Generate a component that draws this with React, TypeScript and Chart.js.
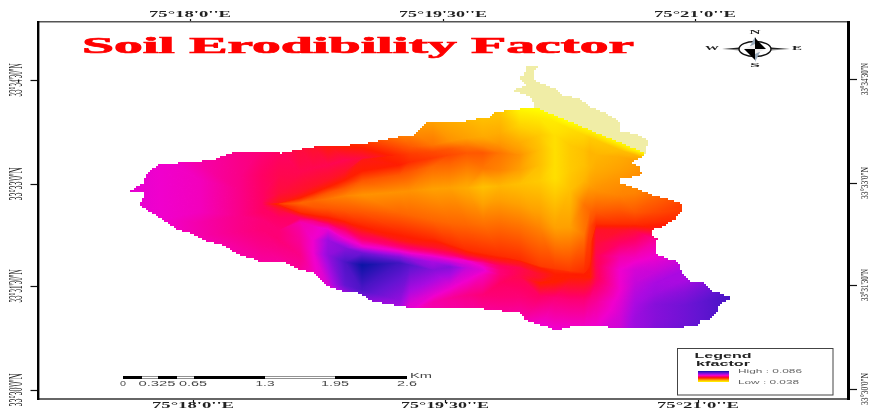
import React, { useEffect, useRef } from "react";
import { Chart, registerables } from "chart.js";

Chart.register(...registerables);

// Source raster grid: column / row of each mapped cell. Axis ticks sit on these columns and rows.
const xTicksTop = [190, 443, 695];
const xTicksBottom = [193, 445, 698];
const yTicksLeft = [80, 184, 286, 390];
const yTicksRight = [79, 183, 285, 389];
const lonLabels = ["75°18'0''E", "75°19'30''E", "75°21'0''E"];
const latLabels = ["33°34'30''N", "33°33'0''N", "33°31'30''N", "33°30'0''N"];

const scaleBarBreaks = [123, 142, 158, 177, 194, 265, 335, 407];
const scaleBarLabels = ["0", "0.325", "0.65", "1.3", "1.95", "2.6"];
const scaleBarLabelAt = [123, 157, 193, 265, 335, 407];

// k-factor colour ramp (k x 1000, colour)
const ramp: [number, number[]][] = [
  [38, [255, 255, 0]],
  [47, [255, 160, 0]],
  [56, [255, 30, 0]],
  [61, [255, 0, 100]],
  [67, [240, 0, 205]],
  [72, [170, 10, 225]],
  [78, [100, 20, 210]],
  [86, [10, 20, 165]],
];

// Watershed boundary of the kfactor surface [col, row]
const basinOutline: number[][] = [
  [535, 107], [646, 153], [641, 157], [632, 163], [640, 167], [639, 172], [644, 174], [632, 177], [620, 178], [620, 183],
  [635, 188], [652, 195], [677, 202], [682, 204], [681, 212], [675, 219], [665, 226], [652, 230], [652, 236], [657, 239],
  [656, 254], [668, 259], [678, 262], [682, 274], [690, 281], [702, 282], [712, 291], [733, 298], [725, 302], [718, 306],
  [717, 312], [710, 319], [700, 321], [698, 326], [683, 327], [652, 327], [635, 328], [617, 328], [602, 326], [575, 326],
  [554, 331], [552, 328], [535, 323], [525, 319], [522, 313], [503, 311], [475, 308], [445, 307], [407, 307], [383, 303],
  [370, 300], [360, 293], [345, 292], [333, 288], [322, 282], [313, 272], [300, 270], [288, 263], [260, 261], [238, 254],
  [223, 245], [207, 241], [193, 234], [177, 229], [160, 217], [140, 206], [140, 203], [145, 193], [128, 191], [143, 183],
  [147, 172], [160, 163], [177, 163], [213, 160], [230, 153], [250, 152], [280, 153], [290, 151], [313, 147], [340, 146],
  [367, 143], [397, 137], [413, 135], [428, 122], [458, 122], [488, 117], [495, 112], [518, 109],
];

// Separate pale unit at the northern tip [col, row]
const tipOutline: number[][] = [
  [526, 66], [538, 67], [533, 72], [535, 82], [545, 85], [557, 90], [563, 96], [578, 98], [590, 107], [605, 113],
  [620, 122], [620, 131], [638, 135], [648, 141], [646, 153], [535, 107], [532, 98], [522, 93], [512, 90], [526, 85],
  [518, 78], [524, 75],
];

// kfactor surface read along columns: each column has 17 samples that follow the same features
const surfaceColumns = [
  100, 125, 160, 200, 240, 262, 279, 300, 313, 328, 345, 362, 400, 410, 433, 450, 467, 483, 500, 520, 540, 555, 570,
  584, 590, 596, 620, 635, 655, 685, 750,
];
const surfaceRows: number[][] = [
  [130, 140, 150, 160, 170, 180, 190, 195, 200, 204, 210, 220, 230, 245, 260, 275, 295],
  [130, 140, 150, 160, 170, 180, 190, 195, 200, 204, 210, 220, 230, 245, 260, 275, 295],
  [130, 140, 150, 160, 170, 180, 190, 195, 200, 204, 210, 220, 230, 245, 260, 275, 295],
  [130, 150, 165, 180, 188, 194, 198, 201, 204, 207, 212, 222, 235, 245, 258, 270, 290],
  [130, 150, 175, 190, 197, 200, 203, 205, 208, 212, 216, 222, 232, 245, 258, 270, 290],
  [130, 150, 175, 193, 200, 202, 204, 205, 206, 208, 212, 220, 230, 245, 258, 270, 290],
  [130, 150, 175, 193, 203, 203.7, 204, 204.3, 206, 210, 218, 230, 240, 250, 260, 272, 290],
  [130, 148, 172, 192, 198, 200, 203, 207, 212, 215, 218, 222, 240, 255, 270, 285, 295],
  [130, 146, 168, 186, 193, 197, 201, 207, 214, 218, 221, 226, 240, 253, 272, 285, 300],
  [130, 144, 165, 180, 187, 193, 199, 208, 216, 221, 225, 230, 240, 255, 285, 295, 305],
  [130, 143, 160, 172, 180, 188, 196, 210, 220, 225, 232, 240, 248, 262, 285, 295, 305],
  [125, 141, 158, 160, 171, 181, 195, 212, 224, 230, 240, 247, 253, 265, 290, 302, 310],
  [115, 134, 148, 155, 165, 175, 192, 213, 231, 240, 247, 252, 257, 263, 300, 308, 318],
  [112, 130, 147, 154, 162, 172, 191, 215, 233, 242, 249, 254, 259, 265, 305, 309, 320],
  [105, 122, 145, 152, 158, 166, 189, 220, 238, 247, 252, 257, 262, 270, 294, 302, 320],
  [102, 121, 141, 149, 155, 165, 188, 223, 244, 250, 255, 259, 263, 267, 286, 298, 320],
  [100, 120, 138, 146, 153, 165, 188, 225, 250, 255, 259, 261, 265, 268, 277, 295, 320],
  [95, 118, 136, 146, 153, 168, 187, 222, 253, 257, 260, 263, 267, 270, 275, 295, 320],
  [95, 116, 133, 145, 153, 170, 186, 220, 256, 260, 263, 266, 270, 275, 283, 297, 320],
  [95, 110, 125, 143, 155, 170, 184, 225, 260, 262, 265, 268, 271, 274, 277, 297, 325],
  [95, 109, 118, 135, 150, 165, 181, 228, 266, 268, 271, 274, 278, 281, 283, 296, 330],
  [95, 115, 122, 135, 150, 165, 178, 228, 268.5, 270, 272, 274, 276, 279, 282, 298, 335],
  [100, 122, 129, 145, 160, 170, 190, 227, 271, 272, 273, 274, 275, 277, 281, 300, 335],
  [105, 128, 135, 150, 165, 180, 205, 235, 272, 273, 274, 275, 276, 277, 281, 300, 335],
  [108, 130.5, 138, 152, 167, 185, 210, 226, 245, 262, 268, 272, 275, 277, 282, 300, 335],
  [110, 133, 140, 155, 170, 190, 212, 224, 230, 243, 255, 265, 272, 278, 284, 302, 335],
  [120, 143.5, 150, 157, 170, 195, 210, 224, 230, 243, 257, 270, 280, 290, 301, 315, 340],
  [130, 150, 155, 160, 175, 193, 212, 224, 231, 243, 258, 270, 282, 292, 304, 318, 340],
  [140, 158, 162, 170, 185, 197, 212, 222, 229, 240, 261, 272, 283, 293, 304, 318, 340],
  [160, 180, 190, 197, 202, 205, 210, 218, 226, 240, 260, 270, 280, 292, 305, 320, 345],
  [160, 180, 190, 197, 202, 205, 210, 218, 226, 240, 260, 270, 280, 292, 305, 320, 345],
];
// k x 1000 at the same samples
const surfaceK: number[][] = [
  [68, 68, 68, 68, 68, 68, 68, 68, 68, 68, 68, 68, 68, 68, 68, 68, 68],
  [68, 68, 68, 68, 68, 68, 68, 68, 68, 68, 68, 68, 68, 68, 68, 68, 68],
  [67, 67, 67, 67, 67, 67, 67, 67, 67, 67, 67, 67, 67, 67, 67, 67, 67],
  [66, 65, 65, 66, 66, 66, 66, 66, 66, 66, 66, 65, 65, 66, 66, 66, 66],
  [64, 63, 63, 63, 63, 63, 63, 63, 63, 63, 63, 63, 63, 64, 65, 66, 66],
  [63, 62, 61, 61, 61, 61, 61, 61, 61, 61, 61, 62, 62, 63, 64, 65, 66],
  [62, 61, 60, 59, 57, 55, 54, 55, 57, 59, 61, 62, 62, 63, 64, 65, 66],
  [58, 59, 60, 58, 56, 54, 51, 53, 55, 58, 61, 65, 64, 63, 64, 65, 66],
  [57, 58, 60, 58, 56, 53, 51, 52, 55, 58, 63, 66, 67, 67, 66, 66, 67],
  [56, 56, 60, 58, 56, 52, 50, 52, 55, 58, 63, 68, 73, 74, 69, 68, 68],
  [54, 55, 60, 58, 56, 52, 49, 52, 55, 58, 63, 68, 75, 80, 78, 72, 70],
  [53, 54, 59, 57, 56, 52, 48, 52, 55, 57, 62, 68, 77, 86, 80, 74, 72],
  [47, 49, 53, 55, 56, 52, 48, 51, 55, 57, 62, 68, 75, 81, 74, 72, 71],
  [47, 48, 52, 54, 55, 52, 48, 51, 55, 57, 62, 68, 74, 79, 68, 68, 67],
  [47, 47, 50, 53, 54, 51, 47, 51, 55, 58, 62, 68, 72, 75, 68, 65, 65],
  [46, 46, 48, 52, 53, 51, 47, 51, 55, 58, 62, 67, 71, 75, 68, 64, 65],
  [45, 45, 47, 50, 52, 50, 46, 51, 55, 58, 62, 67, 69, 70, 68, 63, 65],
  [44, 44, 46, 49, 52, 50, 44, 50, 55, 57, 60, 64, 67, 68, 66, 62, 65],
  [43, 44, 46, 48, 50, 49, 45, 50, 55, 57, 59, 61, 62, 62, 61, 62, 65],
  [40, 39, 42, 46, 48, 47, 44, 50, 55, 57, 58, 60, 60, 60, 60, 62, 66],
  [38, 38, 40, 43, 44, 44, 43, 49, 54, 56, 57, 58, 58, 57, 56, 61, 68],
  [38, 38, 40, 41, 41, 41, 41, 47, 54, 55, 55.5, 56, 56, 56, 56, 62, 68],
  [38, 38, 41, 43, 43, 43, 44, 47, 54, 55, 55.5, 56, 56, 56, 57, 62, 68],
  [38, 39, 42, 44, 44, 45, 50, 50, 55, 55, 56, 56, 56, 56, 57, 62, 68],
  [38, 39, 43, 45, 45, 47, 51, 53, 54, 55, 56, 56, 56, 56, 58, 63, 68],
  [38, 39, 43, 45, 46, 48, 52, 55, 58, 59, 60, 60, 60, 60, 61, 64, 68],
  [38, 39, 44, 46, 47, 49, 52, 55, 58, 61, 65, 67, 67, 67, 68, 69, 70],
  [38, 39, 45, 47, 48, 49, 52, 55, 59, 62, 66, 69, 70, 71, 72, 73, 73],
  [38, 40, 46, 49, 50, 51, 53, 55, 57, 64, 68, 70, 72, 73, 75, 75, 76],
  [40, 50, 52, 53, 54, 54, 54, 55, 58, 66, 70, 72, 72, 75, 77, 77, 78],
  [53, 54, 54, 55, 55, 56, 57, 60, 65, 73, 78, 80, 80, 82, 82, 82, 82],
];

const surfacePoints = surfaceColumns.flatMap((col, i) =>
  surfaceRows[i].map((row) => ({ x: col, y: row })),
);
const surfaceValues = surfaceK.flat();

const MESH = 0;
const BASIN = 1;
const TIP = 2;
const CELL = 2;
const ROWS = 17;

function colourAt(k: number): number[] {
  if (k <= ramp[0][0]) return ramp[0][1];
  for (let i = 1; i < ramp.length; i++) {
    if (k <= ramp[i][0]) {
      const [a, ca] = ramp[i - 1];
      const [b, cb] = ramp[i];
      const t = (k - a) / (b - a);
      return ca.map((c, j) => c + (cb[j] - c) * t);
    }
  }
  return ramp[ramp.length - 1][1];
}
const css = (c: number[]) => `rgb(${Math.round(c[0])},${Math.round(c[1])},${Math.round(c[2])})`;

type P = { x: number; y: number; k: number };

function paintTriangle(ctx: CanvasRenderingContext2D, a: P, b: P, c: P, seam: boolean) {
  const det = (b.x - a.x) * (c.y - a.y) - (c.x - a.x) * (b.y - a.y);
  if (Math.abs(det) < 1e-6) return;
  const gx = ((b.k - a.k) * (c.y - a.y) - (c.k - a.k) * (b.y - a.y)) / det;
  const gy = ((c.k - a.k) * (b.x - a.x) - (b.k - a.k) * (c.x - a.x)) / det;
  const g2 = gx * gx + gy * gy;
  const sorted = [a, b, c].sort((p, q) => p.k - q.k);
  const lo = sorted[0], hi = sorted[2];
  let style: string | CanvasGradient;
  if (g2 < 1e-12 || hi.k - lo.k < 1e-5) {
    style = css(colourAt(lo.k));
  } else {
    const d = (hi.k - lo.k) / g2;
    const grad = ctx.createLinearGradient(lo.x, lo.y, lo.x + gx * d, lo.y + gy * d);
    grad.addColorStop(0, css(colourAt(lo.k)));
    for (const [k] of ramp) {
      if (k > lo.k && k < hi.k) grad.addColorStop((k - lo.k) / (hi.k - lo.k), css(colourAt(k)));
    }
    grad.addColorStop(1, css(colourAt(hi.k)));
    style = grad;
  }
  ctx.beginPath();
  ctx.moveTo(a.x, a.y);
  ctx.lineTo(b.x, b.y);
  ctx.lineTo(c.x, c.y);
  ctx.closePath();
  ctx.fillStyle = style;
  ctx.fill();
  if (seam) {
    ctx.strokeStyle = style;
    ctx.lineWidth = 1;
    ctx.stroke();
  }
}

// Trace a boundary along raster cells so the edge shows the source raster's stairs
function rasterPath(ctx: CanvasRenderingContext2D, pts: { x: number; y: number }[]) {
  ctx.beginPath();
  const snap = (v: number) => Math.round(v / CELL) * CELL;
  let px = snap(pts[0].x), py = snap(pts[0].y);
  ctx.moveTo(px, py);
  for (let i = 0; i < pts.length; i++) {
    const a = pts[i], b = pts[(i + 1) % pts.length];
    const steps = Math.ceil(Math.hypot(b.x - a.x, b.y - a.y) / 1.5) || 1;
    for (let s = 1; s <= steps; s++) {
      const x = snap(a.x + ((b.x - a.x) * s) / steps);
      const y = snap(a.y + ((b.y - a.y) * s) / steps);
      if (x !== px) ctx.lineTo(x, py);
      if (y !== py) ctx.lineTo(x, y);
      px = x;
      py = y;
    }
  }
  ctx.closePath();
}

function stretched(
  ctx: CanvasRenderingContext2D, text: string, cx: number, cy: number, width: number,
  font: string, color: string, rot = 0, heavy = 0,
) {
  ctx.save();
  ctx.translate(cx, cy);
  ctx.rotate(rot);
  ctx.font = font;
  const m = ctx.measureText(text).width;
  ctx.scale(width / m, 1);
  ctx.textAlign = "center";
  ctx.textBaseline = "middle";
  ctx.fillStyle = color;
  ctx.fillText(text, 0, 0);
  if (heavy > 0) {
    ctx.strokeStyle = color;
    ctx.lineWidth = heavy;
    ctx.strokeText(text, 0, 0);
  }
  ctx.restore();
}

const rasterPlugin = {
  id: "raster",
  beforeDatasetsDraw(chart: any) {
    const ctx: CanvasRenderingContext2D = chart.ctx;
    const mesh: P[] = chart.getDatasetMeta(MESH).data.map((e: any, i: number) => ({ x: e.x, y: e.y, k: surfaceValues[i] }));
    const basin = chart.getDatasetMeta(BASIN).data;
    const tip = chart.getDatasetMeta(TIP).data;
    ctx.save();
    rasterPath(ctx, basin);
    ctx.clip();
    // first pass closes the seams between facets, second pass lays the clean facets over them
    for (const seam of [true, false]) {
      for (let c = 0; c < surfaceColumns.length - 1; c++) {
        for (let r = 0; r < ROWS - 1; r++) {
          const a = mesh[c * ROWS + r], b = mesh[(c + 1) * ROWS + r];
          const d = mesh[c * ROWS + r + 1], e = mesh[(c + 1) * ROWS + r + 1];
          // split each quad along the diagonal with the smaller change in k, which keeps ridges intact
          if (Math.abs(a.k - e.k) <= Math.abs(b.k - d.k)) {
            paintTriangle(ctx, a, b, e, seam);
            paintTriangle(ctx, a, e, d, seam);
          } else {
            paintTriangle(ctx, a, b, d, seam);
            paintTriangle(ctx, b, e, d, seam);
          }
        }
      }
    }
    ctx.restore();
    ctx.save();
    rasterPath(ctx, tip);
    ctx.fillStyle = "#f0eda6";
    ctx.fill();
    ctx.restore();
  },
};

function drawCompass(ctx: CanvasRenderingContext2D) {
  const cx = 755, cy = 49;
  ctx.save();
  const tri = (pts: number[][], fill: string) => {
    ctx.beginPath();
    ctx.moveTo(cx + pts[0][0], cy + pts[0][1]);
    pts.slice(1).forEach((p) => ctx.lineTo(cx + p[0], cy + p[1]));
    ctx.closePath();
    ctx.fillStyle = fill;
    ctx.fill();
  };
  tri([[-33, 0], [-10, -2], [-10, 0]], "#222");
  tri([[-33, 0], [-10, 2], [-10, 0]], "#888");
  tri([[35, 0], [10, -2], [10, 0]], "#222");
  tri([[35, 0], [10, 2], [10, 0]], "#888");
  ctx.beginPath();
  ctx.ellipse(cx, cy, 16, 7.5, 0, 0, Math.PI * 2);
  ctx.fillStyle = "#fff";
  ctx.fill();
  ctx.strokeStyle = "#111";
  ctx.lineWidth = 1.4;
  ctx.stroke();
  tri([[0, -11], [0, 0], [11, 0]], "#000");
  tri([[0, 11], [0, 0], [-11, 0]], "#000");
  tri([[0, -12], [0, -4], [4, -4]], "#000");
  tri([[0, -12], [0, -2], [-5, -3]], "#9ab");
  tri([[0, 13], [0, 2], [5, 3]], "#9ab");
  tri([[-11, 0], [0, 0], [0, -5]], "#eee");
  tri([[11, 0], [0, 0], [0, 5]], "#eee");
  ctx.restore();
  const f = 'bold 7px "Liberation Serif"';
  stretched(ctx, "N", cx, 32, 11, f, "#222");
  stretched(ctx, "S", cx, 65, 10, f, "#222");
  stretched(ctx, "W", 712, 48, 14, f, "#222");
  stretched(ctx, "E", 797, 48, 10, f, "#222");
}

const annotationPlugin = {
  id: "annotations",
  afterDraw(chart: any) {
    const ctx: CanvasRenderingContext2D = chart.ctx;
    const { x, x2, y, y2 } = chart.scales;
    // Axis labels
    const serifBold = 'bold 8px "Liberation Serif"';
    const lonWidths = [82, 88, 82];
    xTicksTop.forEach((v, i) => stretched(ctx, lonLabels[i], x2.getPixelForValue(v), 14.5, lonWidths[i], serifBold, "#222"));
    xTicksBottom.forEach((v, i) => stretched(ctx, lonLabels[i], x.getPixelForValue(v), 405.5, lonWidths[i], serifBold, "#222"));
    yTicksLeft.forEach((v, i) =>
      stretched(ctx, latLabels[i], 17.5, y.getPixelForValue(v), 33, '18px "Liberation Serif"', "#111", -Math.PI / 2),
    );
    yTicksRight.forEach((v, i) =>
      stretched(ctx, latLabels[i], 865.5, y2.getPixelForValue(v), 32, '10px "Liberation Serif"', "#222", -Math.PI / 2),
    );

    // Title
    stretched(ctx, "Soil Erodibility Factor", 358, 47.5, 552, 'bold 23px "Liberation Serif"', "#ff0000", 0, 0.7);

    drawCompass(ctx);

    // Scale bar
    for (let i = 0; i < scaleBarBreaks.length - 1; i++) {
      const l = scaleBarBreaks[i], r = scaleBarBreaks[i + 1];
      if (i % 2 === 0) {
        ctx.fillStyle = "#000";
        ctx.fillRect(l, 376, r - l, 3);
      } else {
        ctx.fillStyle = "#fff";
        ctx.fillRect(l, 376, r - l, 3);
        ctx.fillStyle = "#777";
        ctx.fillRect(l, 376, r - l, 0.8);
        ctx.fillRect(l, 378.2, r - l, 0.8);
      }
    }
    const barFont = '7px "Liberation Sans"';
    const barWidths = [6, 37, 28, 19, 28, 20];
    scaleBarLabels.forEach((t, i) => stretched(ctx, t, scaleBarLabelAt[i], 384, barWidths[i], barFont, "#444"));
    stretched(ctx, "Km", 421, 376.5, 22, barFont, "#444");

    // Legend
    ctx.fillStyle = "#fff";
    ctx.fillRect(677, 348, 156, 47);
    ctx.strokeStyle = "#444";
    ctx.lineWidth = 1;
    ctx.strokeRect(677.5, 348.5, 155.5, 46.5);
    const legendBold = 'bold 7px "Liberation Sans"';
    stretched(ctx, "Legend", 723, 356, 57, legendBold, "#222");
    stretched(ctx, "kfactor", 723, 364, 54, legendBold, "#222");
    const g = ctx.createLinearGradient(0, 371, 0, 382);
    ramp.forEach(([k]) => g.addColorStop(1 - (k - ramp[0][0]) / (ramp[ramp.length - 1][0] - ramp[0][0]), css(colourAt(k))));
    ctx.fillStyle = g;
    ctx.fillRect(698, 371, 31, 11);
    const legendFont = '6px "Liberation Sans"';
    stretched(ctx, "High : 0.086", 770, 371, 64, legendFont, "#666");
    stretched(ctx, "Low : 0.038", 768.5, 382, 61, legendFont, "#666");
  },
};

function axis(position: string, ticks: number[], min: number, max: number, color: string, width: number, tickLength: number, extra: object = {}) {
  const horizontal = position === "top" || position === "bottom";
  return {
    type: "linear",
    position,
    min,
    max,
    display: true,
    afterBuildTicks: (s: any) => {
      s.ticks = ticks.map((value) => ({ value }));
    },
    afterFit: (s: any) => {
      if (horizontal) s.height = 0;
      else s.width = 0;
    },
    ticks: { display: false },
    grid: { drawOnChartArea: false, drawTicks: true, tickLength, tickColor: "#111", tickWidth: 1.2 },
    border: { display: true, color, width },
    ...extra,
  };
}

export default function App() {
  const ref = useRef<HTMLCanvasElement>(null);
  useEffect(() => {
    if (!ref.current) return;
    const toXY = (p: number[]) => ({ x: p[0], y: p[1] });
    const hidden = { showLine: false, pointRadius: 0, pointHoverRadius: 0 };
    const chart = new Chart(ref.current, {
      type: "scatter",
      data: {
        datasets: [
          { label: "kfactor surface", data: surfacePoints, ...hidden },
          { label: "basin", data: basinOutline.map(toXY), ...hidden },
          { label: "northern tip", data: tipOutline.map(toXY), ...hidden },
        ],
      },
      options: {
        animation: false,
        responsive: false,
        devicePixelRatio: 1,
        layout: { padding: { left: 38.5, right: 21, top: 22, bottom: 9 } },
        plugins: { legend: { display: false }, tooltip: { enabled: false }, title: { display: false } },
        scales: {
          x: axis("bottom", xTicksBottom, 38.5, 848, "#666", 2, 4),
          x2: axis("top", xTicksTop, 38.5, 848, "#555", 1.5, 3),
          y: axis("left", yTicksLeft, 22, 399, "#000", 2.4, 8, { reverse: true }),
          y2: axis("right", yTicksRight, 22, 399, "#000", 3, 9, { reverse: true }),
        },
      } as any,
      plugins: [rasterPlugin, annotationPlugin],
    } as any);
    return () => chart.destroy();
  }, []);
  return (
    <div style={{ position: "fixed", left: 0, top: 0, width: 869, height: 408, background: "#fff", overflow: "hidden" }}>
      <canvas ref={ref} width={869} height={408} style={{ display: "block", filter: "blur(0.45px)" }} />
    </div>
  );
}
